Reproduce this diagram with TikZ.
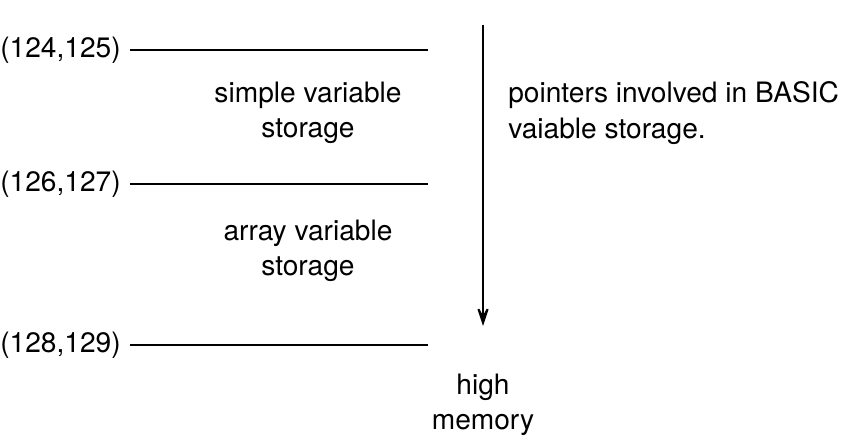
\documentclass[tikz,border=0pt]{standalone}
\usepackage{fontspec}
\setmainfont{TeX Gyre Heros}
\usetikzlibrary{arrows.meta}

\begin{document}
\begin{tikzpicture}[x=0.02cm,y=-0.02cm,
	every node/.style={font=\fontsize{16}{20}\selectfont,inner sep=0pt},
	addr/.style={anchor=west},
	bound/.style={line width=1.1pt,shorten <=5pt},
	region/.style={align=center}]
	
	\useasboundingbox (0,0) rectangle (859,442);
	
	% pointer addresses and their boundary lines
	\node[addr] (a124) at (0,50) {(124,125)};
	\node[addr] (a126) at (0,184) {(126,127)};
	\node[addr] (a128) at (0,345) {(128,129)};
	\coordinate (e124) at (428,50);
	\coordinate (e126) at (428,184);
	\coordinate (e128) at (428,345);
	\draw[bound] (a124.east) -- (e124);
	\draw[bound] (a126.east) -- (e126);
	\draw[bound] (a128.east) -- (e128);
	
	\node[region] (simple) at (308,113) {simple variable\\storage};
	\node[region] (array) at (308,251) {array variable\\storage};
	\node[region] (high) at (483,405) {high\\memory};
	
	% direction of memory
	\coordinate (ptop) at (483,25);
	\coordinate (pbot) at (483,326);
	\draw[line width=1.1pt,-{Stealth[length=15pt,width=10pt,inset=9pt]}] (ptop) -- (pbot);
	
	\node[anchor=west,align=left] (note) at (508,113) {pointers involved in BASIC\\vaiable storage.};
	
\end{tikzpicture}
\end{document}
